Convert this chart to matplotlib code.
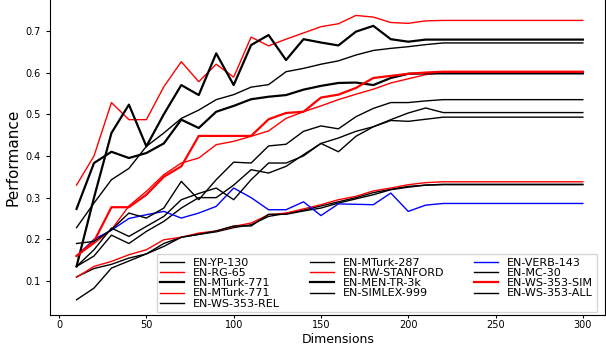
import matplotlib
matplotlib.use("Agg")
import matplotlib.pyplot as plt

dims = [10, 20, 30, 40, 50, 60, 70, 80, 90, 100, 110, 120, 130, 140, 150,
        160, 170, 180, 190, 200, 210, 220, 230, 240, 250, 260, 270, 280, 290, 300]

yp_130 = [0.11, 0.13, 0.14, 0.155, 0.165, 0.19, 0.205, 0.212, 0.218, 0.228, 0.235,
          0.255, 0.262, 0.27, 0.28, 0.29, 0.30, 0.312, 0.32, 0.327, 0.33, 0.331,
          0.331, 0.331, 0.331, 0.331, 0.331, 0.331, 0.331, 0.331]
rg_65 = [0.33, 0.40, 0.528, 0.487, 0.487, 0.566, 0.626, 0.578, 0.62, 0.589, 0.685,
         0.664, 0.68, 0.695, 0.71, 0.717, 0.737, 0.733, 0.72, 0.718, 0.724, 0.725,
         0.725, 0.725, 0.725, 0.725, 0.725, 0.725, 0.725, 0.725]
mturk_771_a = [0.135, 0.30, 0.455, 0.523, 0.423, 0.50, 0.57, 0.546, 0.646, 0.57, 0.666,
               0.69, 0.63, 0.68, 0.672, 0.665, 0.698, 0.712, 0.68, 0.674, 0.679, 0.679,
               0.679, 0.679, 0.679, 0.679, 0.679, 0.679, 0.679, 0.679]
mturk_771_b = [0.16, 0.19, 0.223, 0.28, 0.315, 0.355, 0.383, 0.395, 0.427, 0.435, 0.447,
               0.46, 0.49, 0.506, 0.52, 0.535, 0.548, 0.56, 0.575, 0.585, 0.595, 0.60,
               0.60, 0.60, 0.60, 0.60, 0.60, 0.60, 0.60, 0.60]
ws_353_rel = [0.135, 0.16, 0.21, 0.19, 0.219, 0.243, 0.275, 0.30, 0.30, 0.33, 0.367,
              0.359, 0.375, 0.403, 0.43, 0.443, 0.459, 0.47, 0.485, 0.483, 0.488, 0.493,
              0.493, 0.493, 0.493, 0.493, 0.493, 0.493, 0.493, 0.493]
mturk_287 = [0.228, 0.287, 0.343, 0.37, 0.423, 0.455, 0.49, 0.51, 0.535, 0.547, 0.565,
             0.571, 0.602, 0.61, 0.62, 0.628, 0.642, 0.653, 0.658, 0.662, 0.667, 0.671,
             0.671, 0.671, 0.671, 0.671, 0.671, 0.671, 0.671, 0.671]
rw_stanford = [0.109, 0.135, 0.147, 0.163, 0.175, 0.199, 0.205, 0.215, 0.22, 0.231, 0.239,
               0.259, 0.263, 0.273, 0.283, 0.295, 0.303, 0.316, 0.323, 0.331, 0.336, 0.338,
               0.338, 0.338, 0.338, 0.338, 0.338, 0.338, 0.338, 0.338]
men_tr_3k = [0.273, 0.383, 0.41, 0.395, 0.407, 0.43, 0.487, 0.467, 0.506, 0.52, 0.536,
             0.542, 0.546, 0.559, 0.568, 0.575, 0.576, 0.57, 0.587, 0.597, 0.598, 0.598,
             0.598, 0.598, 0.598, 0.598, 0.598, 0.598, 0.598, 0.598]
simlex_999 = [0.055, 0.083, 0.131, 0.148, 0.165, 0.183, 0.205, 0.212, 0.22, 0.232, 0.232,
              0.26, 0.26, 0.268, 0.275, 0.287, 0.297, 0.307, 0.319, 0.325, 0.33, 0.332,
              0.332, 0.332, 0.332, 0.332, 0.332, 0.332, 0.332, 0.332]
verb_143 = [0.16, 0.20, 0.222, 0.25, 0.259, 0.267, 0.251, 0.263, 0.279, 0.323, 0.30,
            0.271, 0.271, 0.29, 0.257, 0.285, 0.284, 0.283, 0.311, 0.267, 0.282, 0.286,
            0.286, 0.286, 0.286, 0.286, 0.286, 0.286, 0.286, 0.286]
mc_30 = [0.135, 0.175, 0.227, 0.207, 0.231, 0.255, 0.295, 0.31, 0.323, 0.295, 0.343,
         0.383, 0.383, 0.40, 0.43, 0.41, 0.447, 0.47, 0.487, 0.503, 0.515, 0.504,
         0.504, 0.504, 0.504, 0.504, 0.504, 0.504, 0.504, 0.504]
ws_353_sim = [0.16, 0.195, 0.277, 0.277, 0.307, 0.35, 0.375, 0.448, 0.448, 0.448, 0.448,
              0.488, 0.503, 0.506, 0.54, 0.547, 0.563, 0.587, 0.592, 0.597, 0.60, 0.602,
              0.602, 0.602, 0.602, 0.602, 0.602, 0.602, 0.602, 0.602]
ws_353_all = [0.19, 0.195, 0.223, 0.263, 0.251, 0.275, 0.339, 0.295, 0.343, 0.385, 0.383,
              0.424, 0.428, 0.459, 0.472, 0.465, 0.494, 0.514, 0.528, 0.528, 0.532, 0.535,
              0.535, 0.535, 0.535, 0.535, 0.535, 0.535, 0.535, 0.535]

series = [
    ("EN-YP-130", yp_130, "black", 1.0),
    ("EN-RG-65", rg_65, "red", 1.0),
    ("EN-MTurk-771", mturk_771_a, "black", 1.6),
    ("EN-MTurk-771", mturk_771_b, "red", 1.0),
    ("EN-WS-353-REL", ws_353_rel, "black", 1.0),
    ("EN-MTurk-287", mturk_287, "black", 1.0),
    ("EN-RW-STANFORD", rw_stanford, "red", 1.0),
    ("EN-MEN-TR-3k", men_tr_3k, "black", 1.6),
    ("EN-SIMLEX-999", simlex_999, "black", 1.0),
    ("EN-VERB-143", verb_143, "blue", 1.0),
    ("EN-MC-30", mc_30, "black", 1.0),
    ("EN-WS-353-SIM", ws_353_sim, "red", 1.6),
    ("EN-WS-353-ALL", ws_353_all, "black", 1.0),
]

fig = plt.figure(figsize=(6.06, 3.46), dpi=100)
ax = fig.add_axes([50 / 606, 1 - 315 / 346, 555 / 606, 315 / 346])

for label, values, color, lw in series:
    ax.plot(dims, values, color=color, linewidth=lw, label=label)

ax.set_xlim(-5.2, 312.7)
ax.set_ylim(0.0185, 0.774)
ax.set_xticks([0, 50, 100, 150, 200, 250, 300])
ax.tick_params(labelsize=7, length=3)
ax.tick_params(axis="x", length=2.5, pad=1)
ax.spines["top"].set_visible(False)

ax.set_ylabel("Performance", fontsize=11, labelpad=4,
              family=["Liberation Sans Narrow", "DejaVu Sans"])
# x label pinned to the bottom edge so it stays inside the figure
fig.text(338 / 606, 0, "Dimensions", fontsize=9, ha="center", va="bottom")

fig.legend(
    loc="lower left",
    bbox_to_anchor=(157 / 606, 1 - 312 / 346),
    ncol=3,
    fontsize=8,
    labelspacing=0.02,
    handlelength=2.15,
    handletextpad=0.8,
    columnspacing=2.7,
    borderpad=0.3,
    borderaxespad=0,
    fancybox=False,
)

fig.savefig("out.png", dpi=100)
